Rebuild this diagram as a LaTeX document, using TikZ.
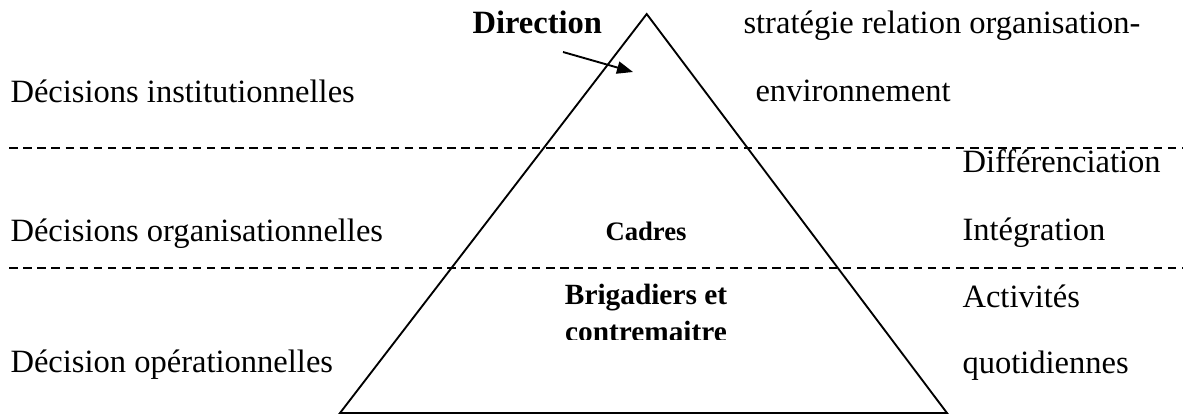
\documentclass[tikz,border=0pt]{standalone}
\usepackage{fontspec}
\setmainfont{Liberation Serif}
\usetikzlibrary{arrows.meta}
\begin{document}
\begin{tikzpicture}[x=0.375pt,y=-0.375pt,
  lbl/.style={inner sep=0pt, anchor=base west, font=\fontsize{12.2}{14}\selectfont},
  boldlbl/.style={inner sep=0pt, anchor=base west, font=\bfseries\fontsize{12.2}{14}\selectfont},
  levellbl/.style={inner sep=0pt, anchor=base},
  sepline/.style={line width=0.55pt, dash pattern=on 3.2pt off 2.1pt},
  pyr/.style={line width=0.7pt, line join=miter},
  pointer/.style={line width=0.7pt, -{Triangle[length=6pt,width=4.6pt]}}]
\useasboundingbox (0,0) rectangle (1187,416);
% pyramid
\coordinate (apex) at (646.7,14);
\coordinate (bl) at (340,413);
\coordinate (br) at (947,413);
\draw[pyr] (apex) -- (br) -- (bl) -- cycle;
% separators
\coordinate (s1a) at (9,148);
\coordinate (s1b) at (1183,148);
\coordinate (s2a) at (9,268);
\coordinate (s2b) at (1183,268);
\draw[sepline] (s1a) -- (s1b);
\draw[sepline] (s2a) -- (s2b);
% left column
\node[lbl] (dinst) at (10,102) {Décisions institutionnelles};
\node[lbl] (dorg) at (10,241) {Décisions organisationnelles};
\node[lbl] (dop) at (10,372) {Décision opérationnelles};
% top
\node[boldlbl] (dir) at (472,33) {Direction};
\node[lbl] (strat) at (743,33) {stratégie relation organisation-};
\node[lbl] (env) at (755,101) {environnement};
% right column
\node[lbl] (diff) at (962,172) {Différenciation};
\node[lbl] (integ) at (962,240) {Intégration};
\node[lbl] (act) at (962,307) {Activités};
\node[lbl] (quot) at (962,373) {quotidiennes};
% inside pyramid
\node[levellbl, font=\bfseries\fontsize{10}{12}\selectfont] (cadres) at (646,240) {Cadres};
\node[levellbl, font=\bfseries\fontsize{11}{13}\selectfont] (brig1) at (646,304) {Brigadiers et};
\begin{scope}
\clip (400,270) rectangle (900,339);
\node[levellbl, font=\bfseries\fontsize{11}{13}\selectfont] (brig2) at (646,341) {contremaitre};
\end{scope}
% arrow
\coordinate (arrS) at (563,52);
\coordinate (arrE) at (633,72);
\draw[pointer] (arrS) -- (arrE);
\end{tikzpicture}
\end{document}
